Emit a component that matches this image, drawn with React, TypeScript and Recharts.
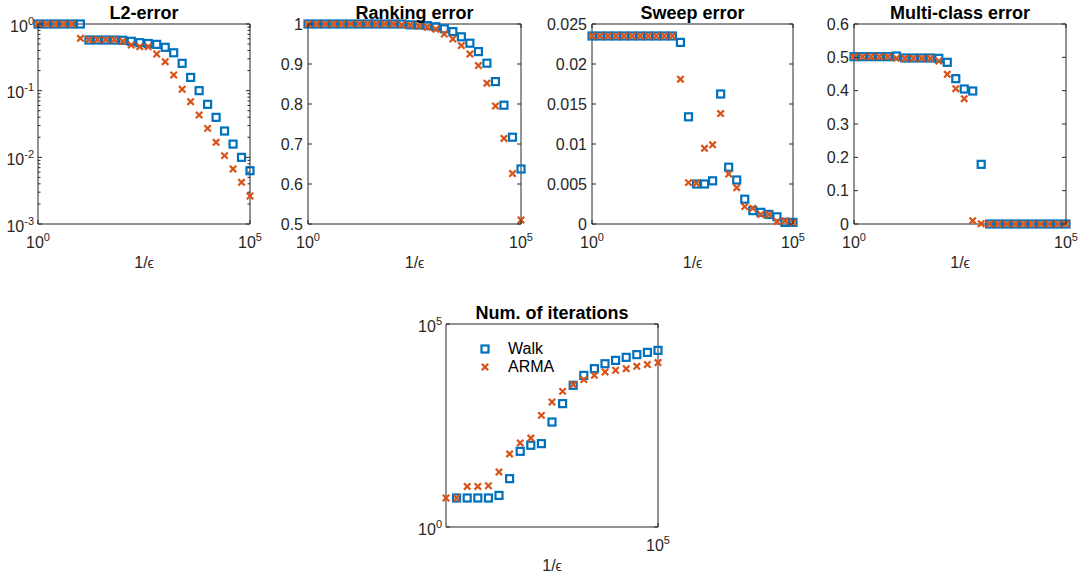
import React from 'react';
import { ScatterChart, Scatter, XAxis, YAxis, ReferenceArea, Legend } from 'recharts';

const BLUE = '#0072BD';
const ORANGE = '#D95319';
const INK = '#262626';
const FONT = '"Liberation Sans", Arial, Helvetica, sans-serif';

// 1/eps values, 0.2 decades apart
const invEps = [1, 1.585, 2.512, 3.981, 6.31, 10, 15.85, 25.12, 39.81, 63.1, 100, 158.5, 251.2, 398.1, 631, 1000,
  1585, 2512, 3981, 6310, 10000, 15850, 25120, 39810, 63100, 100000];
const invEpsIter = [10, 15.85, 25.12, 39.81, 63.1, 100, 158.5, 251.2, 398.1, 631, 1000,
  1585, 2512, 3981, 6310, 10000, 15850, 25120, 39810, 63100, 100000];

const l2Walk = [1, 1, 1, 1, 1, 1, 0.575, 0.575, 0.575, 0.575, 0.57, 0.55, 0.525, 0.51, 0.495, 0.447, 0.37, 0.257,
  0.158, 0.1, 0.0624, 0.0398, 0.0248, 0.0158, 0.01, 0.0063];
const l2Arma = [1, 1, 1, 1, 1, 0.61, 0.58, 0.58, 0.58, 0.58, 0.55, 0.484, 0.457, 0.457, 0.355, 0.272, 0.172, 0.105,
  0.0684, 0.0432, 0.0272, 0.0168, 0.0106, 0.00668, 0.00422, 0.00263];

const rankWalk = [1, 1, 1, 1, 1, 1, 1, 1, 1, 1, 1, 1, 0.998, 0.9975, 0.996, 0.993, 0.988, 0.981, 0.968, 0.952,
  0.931, 0.902, 0.856, 0.797, 0.717, 0.6375];
const rankArma = [1, 1, 1, 1, 1, 1, 1, 1, 1, 1, 1, 0.998, 0.9975, 0.995, 0.992, 0.987, 0.975, 0.9625, 0.946, 0.925,
  0.896, 0.852, 0.795, 0.714, 0.626, 0.51];

const sweepWalk = [0.0235, 0.0235, 0.0235, 0.0235, 0.0235, 0.0235, 0.0235, 0.0235, 0.0235, 0.0235, 0.0235,
  0.0227, 0.0134, 0.005, 0.005, 0.0054, 0.01625, 0.0071, 0.0055, 0.0031, 0.00167, 0.00146, 0.0012, 0.0009, 0.0002, 0.0002];
const sweepArma = [0.0235, 0.0235, 0.0235, 0.0235, 0.0235, 0.0235, 0.0235, 0.0235, 0.0235, 0.0235, 0.0235,
  0.0181, 0.00517, 0.0051, 0.00946, 0.0099, 0.0138, 0.00625, 0.00454, 0.00217, 0.00196, 0.0012, 0.0012, 0.0003, 0.0004, 0.0002];

const multiWalk = [0.502, 0.502, 0.502, 0.502, 0.502, 0.504, 0.498, 0.498, 0.498, 0.498, 0.497, 0.485, 0.436, 0.405,
  0.399, 0.179, 0, 0, 0, 0, 0, 0, 0, 0, 0, 0];
const multiArma = [0.502, 0.502, 0.502, 0.502, 0.502, 0.497, 0.497, 0.497, 0.497, 0.497, 0.489, 0.449, 0.406, 0.376,
  0.01, 0.001, 0, 0, 0, 0, 0, 0, 0, 0, 0, 0];

const iterWalk = [null, 5.18, 5.18, 5.18, 5.18, 6, 15.5, 73, 103, 113, 385, 1093, 3090, 5430, 7940, 10500, 12700,
  15100, 17600, 20000, 22400];
const iterArma = [5.18, 5.18, 10, 10, 10.4, 22.6, 63, 117, 155, 562, 1200, 2190, 3240, 4260, 5430, 6590, 7240,
  7940, 9060, 10000, 11200];

const xTicks = [1, 100000];
const xTicksIter = [100000];
const l2Ticks = [0.001, 0.01, 0.1, 1];
const rankTicks = [0.5, 0.6, 0.7, 0.8, 0.9, 1];
const sweepTicks = [0, 0.005, 0.01, 0.015, 0.02, 0.025];
const multiTicks = [0, 0.1, 0.2, 0.3, 0.4, 0.5, 0.6];
const iterTicks = [1, 100000];
const legendNames = ['Walk', 'ARMA'];

// minor ticks for the log L2 axis
const l2Minor = [0.001, 0.01, 0.1].flatMap(d => [2, 3, 4, 5, 6, 7, 8, 9].map(m => m * d));

const PL = 60, PT = 30, PR = 20, PB = 60;

type Cfg = {
  title: string; left: number; top: number; w: number; h: number;
  xs: number[]; walk: (number | null)[]; arma: number[];
  xDomain: [number, number]; xTicks: number[];
  yDomain: [number, number]; yTicks: number[]; yMinor?: number[]; yLog?: boolean;
  legend?: boolean;
};

const isIn = (arr: number[], v: number) => arr.some(m => Math.abs(m - v) <= 1e-9 * Math.max(1e-3, Math.abs(m)));

const Square = (p: any) => (
  <rect x={p.cx - 3.5} y={p.cy - 3.5} width={7} height={7} fill="none" stroke={BLUE} strokeWidth={2.2} />
);
const Cross = (p: any) => (
  <g stroke={ORANGE} strokeWidth={2.2}>
    <line x1={p.cx - 3.2} y1={p.cy - 3.2} x2={p.cx + 3.2} y2={p.cy + 3.2} />
    <line x1={p.cx - 3.2} y1={p.cy + 3.2} x2={p.cx + 3.2} y2={p.cy - 3.2} />
  </g>
);

const LegendBox = () => (
  <div style={{ fontFamily: FONT, fontSize: 16, color: '#000' }}>
    {legendNames.map((n, i) => (
      <div key={n} style={{ display: 'flex', alignItems: 'center', height: 18, lineHeight: '18px' }}>
        <svg width={16} height={18} style={{ marginRight: 15 }}>
          {i === 0 ? <Square cx={8} cy={9} /> : <Cross cx={8} cy={9} />}
        </svg>
        <span>{n}</span>
      </div>
    ))}
  </div>
);

function Panel({ cfg }: { cfg: Cfg }) {
  const { w, h } = cfg;
  const walkData = cfg.xs.map((x, i) => ({ x, y: cfg.walk[i] })).filter(d => d.y != null);
  const armaData = cfg.xs.map((x, i) => ({ x, y: cfg.arma[i] }));
  const yAll = [...cfg.yTicks, ...(cfg.yMinor || [])];

  const yTick = (p: any) => {
    const v = p.payload.value;
    const y = p.y;
    const major = isIn(cfg.yTicks, v);
    const len = major ? 4 : 2.5;
    return (
      <g>
        <line x1={PL} x2={PL + len} y1={y} y2={y} stroke={INK} />
        <line x1={PL + w - len} x2={PL + w} y1={y} y2={y} stroke={INK} />
        {major && (cfg.yLog ? (
          <text x={PL - 4} y={y + 7.5} textAnchor="end" fontSize={16} fill={INK} fontFamily={FONT}>
            10<tspan dy={-7} fontSize={11}>{Math.round(Math.log10(v))}</tspan>
          </text>
        ) : (
          <text x={PL - 5} y={y + 5.5} textAnchor="end" fontSize={16} fill={INK} fontFamily={FONT}>
            {String(v)}
          </text>
        ))}
      </g>
    );
  };

  const xTick = (p: any) => {
    const v = p.payload.value;
    const x = p.x;
    return (
      <g>
        <line x1={x} x2={x} y1={PT + h} y2={PT + h - 4} stroke={INK} />
        <line x1={x} x2={x} y1={PT} y2={PT + 4} stroke={INK} />
        <text x={x} y={PT + h + 24} textAnchor="middle" fontSize={16} fill={INK} fontFamily={FONT}>
          10<tspan dy={-7} fontSize={11}>{Math.round(Math.log10(v))}</tspan>
        </text>
      </g>
    );
  };

  return (
    <>
      <div style={{ position: 'absolute', left: cfg.left - PL, top: cfg.top - PT }}>
        <ScatterChart width={w + PL + PR} height={h + PT + PB} margin={{ top: PT, right: PR, bottom: 0, left: 0 }}>
          <XAxis dataKey="x" type="number" scale="log" domain={cfg.xDomain} ticks={cfg.xTicks} interval={0}
            height={PB} tick={xTick} tickLine={false} axisLine={false} />
          <YAxis dataKey="y" type="number" scale={cfg.yLog ? 'log' : 'linear'} domain={cfg.yDomain} ticks={yAll}
            interval={0} width={PL} tick={yTick} tickLine={false} axisLine={false} />
          <ReferenceArea x1={cfg.xDomain[0]} x2={cfg.xDomain[1]} y1={cfg.yDomain[0]} y2={cfg.yDomain[1]}
            fill="none" fillOpacity={0} stroke={INK} strokeWidth={1} />
          <Scatter name="Walk" data={walkData} shape={Square} fill={BLUE} isAnimationActive={false} />
          <Scatter name="ARMA" data={armaData} shape={Cross} fill={ORANGE} isAnimationActive={false} />
          {cfg.legend && (
            <Legend layout="vertical" align="center" verticalAlign="middle" content={LegendBox}
              wrapperStyle={{ left: 91, top: 46, width: 120, height: 36 }} />
          )}
        </ScatterChart>
      </div>
      <div style={{ position: 'absolute', left: cfg.left, width: w, top: cfg.top - 20.5, textAlign: 'center',
        fontFamily: FONT, fontWeight: 'bold', fontSize: 18, lineHeight: '18px', color: '#000', whiteSpace: 'nowrap' }}>
        {cfg.title}
      </div>
      <div style={{ position: 'absolute', left: cfg.left, width: w, top: cfg.top + h + 31, textAlign: 'center',
        fontFamily: FONT, fontSize: 16, lineHeight: '16px', color: INK }}>
        1/<span style={{ fontSize: 14 }}>ϵ</span>
      </div>
    </>
  );
}

const panels: Cfg[] = [
  { title: 'L2-error', left: 38, top: 24, w: 212, h: 200, xs: invEps, walk: l2Walk, arma: l2Arma,
    xDomain: [1, 100000], xTicks, yDomain: [0.001, 1], yTicks: l2Ticks, yMinor: l2Minor, yLog: true },
  { title: 'Ranking error', left: 308, top: 24, w: 213, h: 200, xs: invEps, walk: rankWalk, arma: rankArma,
    xDomain: [1, 100000], xTicks, yDomain: [0.5, 1], yTicks: rankTicks },
  { title: 'Sweep error', left: 592, top: 24, w: 201, h: 200, xs: invEps, walk: sweepWalk, arma: sweepArma,
    xDomain: [1, 100000], xTicks, yDomain: [0, 0.025], yTicks: sweepTicks },
  { title: 'Multi-class error', left: 854, top: 24, w: 212, h: 200, xs: invEps, walk: multiWalk, arma: multiArma,
    xDomain: [1, 100000], xTicks, yDomain: [0, 0.6], yTicks: multiTicks },
  { title: 'Num. of iterations', left: 446, top: 324, w: 212, h: 203, xs: invEpsIter, walk: iterWalk, arma: iterArma,
    xDomain: [10, 100000], xTicks: xTicksIter, yDomain: [1, 100000], yTicks: iterTicks, yLog: true, legend: true },
];

export default function App() {
  return (
    <div style={{ position: 'absolute', left: 0, top: 0, width: 1078, height: 574, background: '#fff', overflow: 'hidden' }}>
      {panels.map(p => <Panel key={p.title} cfg={p} />)}
    </div>
  );
}
